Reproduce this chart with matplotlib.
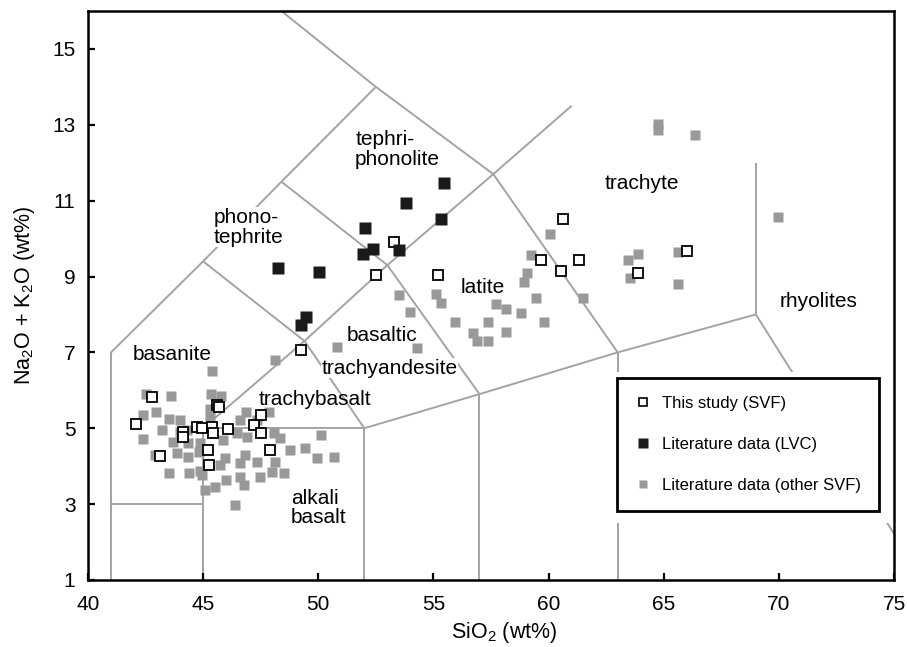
import matplotlib
matplotlib.use("Agg")
import matplotlib.pyplot as plt
from matplotlib.lines import Line2D
from matplotlib.patches import Rectangle

plt.rcParams['font.family'] = ['Liberation Sans', 'DejaVu Sans']
plt.rcParams['mathtext.fontset'] = 'custom'
plt.rcParams['mathtext.rm'] = 'Liberation Sans'
plt.rcParams['mathtext.it'] = 'Liberation Sans:italic'

# this study (SVF)
svf_sio2 = [53.28, 52.49, 55.2, 49.25, 60.64, 59.65, 61.3, 60.52, 63.9, 66.03,
            42.8, 42.09, 43.13, 44.14, 44.14, 44.75, 44.94, 45.38, 45.42, 45.19,
            45.26, 46.07, 45.62, 45.68, 47.19, 47.52, 47.52, 47.91]
svf_alk = [9.92, 9.04, 9.04, 7.06, 10.52, 9.44, 9.44, 9.15, 9.09, 9.67,
           5.82, 5.10, 4.27, 4.91, 4.78, 5.04, 5.00, 5.04, 4.87, 4.43,
           4.03, 4.98, 5.61, 5.55, 5.09, 5.35, 4.87, 4.43]

# literature data, LVC
lvc_sio2 = [48.25, 50.04, 52.01, 53.83, 55.48, 55.35, 51.94, 52.37, 53.49, 49.45, 49.25]
lvc_alk = [9.23, 9.11, 10.29, 10.93, 11.47, 10.52, 9.59, 9.72, 9.70, 7.94, 7.72]

# literature data, other SVF
other_sio2 = [53.5, 54.0, 55.1, 55.35, 55.95, 54.3, 56.7, 56.9, 57.35, 57.35,
              57.7, 58.15, 58.15, 58.8, 59.45, 59.8, 58.95, 59.05, 59.25, 60.05,
              61.5, 63.45, 63.9, 63.55, 65.6, 65.6, 64.75, 64.75, 66.35, 69.95,
              50.8, 48.1, 45.4,
              42.5, 43.6, 45.35, 45.77, 42.96, 42.4, 43.5, 44.0, 45.3, 46.87,
              47.84, 43.2, 42.4, 43.7, 44.36, 44.87, 45.88, 46.46, 46.9, 48.35,
              50.1, 48.78, 49.43, 49.94, 50.67, 43.85, 44.36, 44.8, 45.96, 46.83,
              47.33, 48.13, 43.5, 44.4, 44.94, 46.0, 46.61, 47.48, 48.0, 48.5,
              45.1, 45.52, 46.78, 46.39, 42.9, 44.0, 48.06, 46.61, 47.33, 45.3,
              44.87, 45.74, 46.61, 44.29]
other_alk = [8.50, 8.06, 8.54, 8.31, 7.79, 7.11, 7.52, 7.31, 7.31, 7.79,
             8.28, 8.14, 7.55, 8.03, 8.44, 7.79, 8.86, 9.09, 9.57, 10.11,
             8.43, 9.44, 9.59, 8.95, 9.65, 8.80, 12.85, 13.02, 12.73, 10.56,
             7.15, 6.80, 6.50,
             5.90, 5.85, 5.90, 5.85, 5.44, 5.35, 5.24, 5.22, 5.50, 5.44,
             5.44, 4.95, 4.71, 4.65, 4.60, 4.60, 4.69, 4.87, 4.78, 4.74,
             4.83, 4.43, 4.47, 4.21, 4.24, 4.34, 4.25, 4.38, 4.21, 4.30,
             4.12, 4.12, 3.81, 3.81, 3.77, 3.64, 3.72, 3.72, 3.85, 3.81,
             3.37, 3.46, 3.50, 2.98, 4.30, 4.91, 4.87, 5.22, 5.22, 5.26,
             3.86, 4.03, 4.08, 4.95]

# TAS field boundaries (Le Bas et al., 1986)
tas_lines = [
    [(41, 0), (41, 7)], [(41, 7), (45, 9.4)], [(45, 9.4), (48.4, 11.5)],
    [(48.4, 11.5), (52.5, 14)], [(52.5, 14), (48.4, 16)],
    [(41, 3), (45, 3)], [(45, 0), (45, 5)], [(45, 5), (52, 5)],
    [(52, 0), (52, 5)], [(52, 5), (57, 5.9)], [(57, 0), (57, 5.9)],
    [(57, 5.9), (63, 7)], [(63, 0), (63, 7)], [(63, 7), (69, 8)],
    [(69, 8), (69, 12)], [(69, 8), (77.3, 0)],
    [(45, 5), (49.4, 7.3)], [(49.4, 7.3), (53, 9.3)], [(53, 9.3), (57.6, 11.7)],
    [(57.6, 11.7), (61, 13.5)],
    [(49.4, 7.3), (52, 5)], [(53, 9.3), (57, 5.9)], [(57.6, 11.7), (63, 7)],
    [(45, 9.4), (49.4, 7.3)], [(48.4, 11.5), (53, 9.3)], [(52.5, 14), (57.6, 11.7)],
]

# (name, x, y, white backing)
field_names = [
    ("tephri-\nphonolite", 51.6, 12.35, False),
    ("phono-\ntephrite", 45.45, 10.3, True),
    ("trachyte", 62.45, 11.45, False),
    ("latite", 56.2, 8.72, False),
    ("basaltic", 51.25, 7.45, False),
    ("trachyandesite", 50.15, 6.58, True),
    ("basanite", 41.95, 6.95, False),
    ("trachybasalt", 47.4, 5.75, False),
    ("alkali\nbasalt", 48.8, 2.9, False),
    ("rhyolites", 70.05, 8.35, False),
]

line_grey = '#a3a3a3'
dot_grey = '#999999'

fig = plt.figure(figsize=(9.07, 6.47), dpi=100)
ax = fig.add_axes([0.0970, 0.1036, 0.8887, 0.8794])

for seg in tas_lines:
    xs, ys = zip(*seg)
    ax.plot(xs, ys, color=line_grey, lw=1.4, zorder=1, solid_capstyle='butt')

# blank area kept clear for the legend
ax.add_patch(Rectangle((62.75, 2.5), 12.0, 3.97, facecolor='white',
                       edgecolor='none', zorder=1.5))

for name, x, y, backed in field_names:
    box = dict(facecolor='white', edgecolor='none', pad=0.5) if backed else None
    ax.text(x, y, name, fontsize=15, ha='left', va='center', linespacing=1.05,
            zorder=2, bbox=box)

ax.plot(other_sio2, other_alk, ls='none', marker='s', ms=7.5, mfc=dot_grey,
        mec='none', zorder=3)
ax.plot(svf_sio2, svf_alk, ls='none', marker='s', ms=6.6, mfc='white',
        mec='black', mew=1.3, zorder=4)
ax.plot(lvc_sio2, lvc_alk, ls='none', marker='s', ms=9.2, mfc='#1a1a1a',
        mec='none', zorder=5)

ax.set_xlim(40, 75)
ax.set_ylim(1, 16)
ax.set_xticks(range(40, 76, 5))
ax.set_yticks(range(1, 16, 2))
ax.tick_params(direction='in', length=5, width=1.6, labelsize=15, pad=9)
ax.tick_params(axis='x', pad=11)
for sp in ax.spines.values():
    sp.set_linewidth(1.8)

ax.set_xlabel('SiO$_2$ (wt%)', fontsize=15.5)
ax.set_ylabel('Na$_2$O + K$_2$O (wt%)', fontsize=15.5)
ax.xaxis.set_label_coords(0.517, -0.071)
ax.yaxis.set_label_coords(-0.063, 0.5)

handles = [
    Line2D([], [], ls='none', marker='s', ms=6.3, mfc='white', mec='black', mew=1.2),
    Line2D([], [], ls='none', marker='s', ms=6.8, mfc='#1a1a1a', mec='none'),
    Line2D([], [], ls='none', marker='s', ms=5.8, mfc=dot_grey, mec='none'),
]
labels = ['This study (SVF)', 'Literature data (LVC)', 'Literature data (other SVF)']
leg = ax.legend(handles, labels, loc='upper left', bbox_to_anchor=(0.656, 0.355),
                borderaxespad=0, fancybox=False, framealpha=1, edgecolor='black',
                fontsize=12, borderpad=1.1, labelspacing=1.55, handlelength=1.0,
                handletextpad=0.62)
leg.get_frame().set_linewidth(2.0)
leg.set_zorder(6)

fig.savefig('out.png', dpi=100)
